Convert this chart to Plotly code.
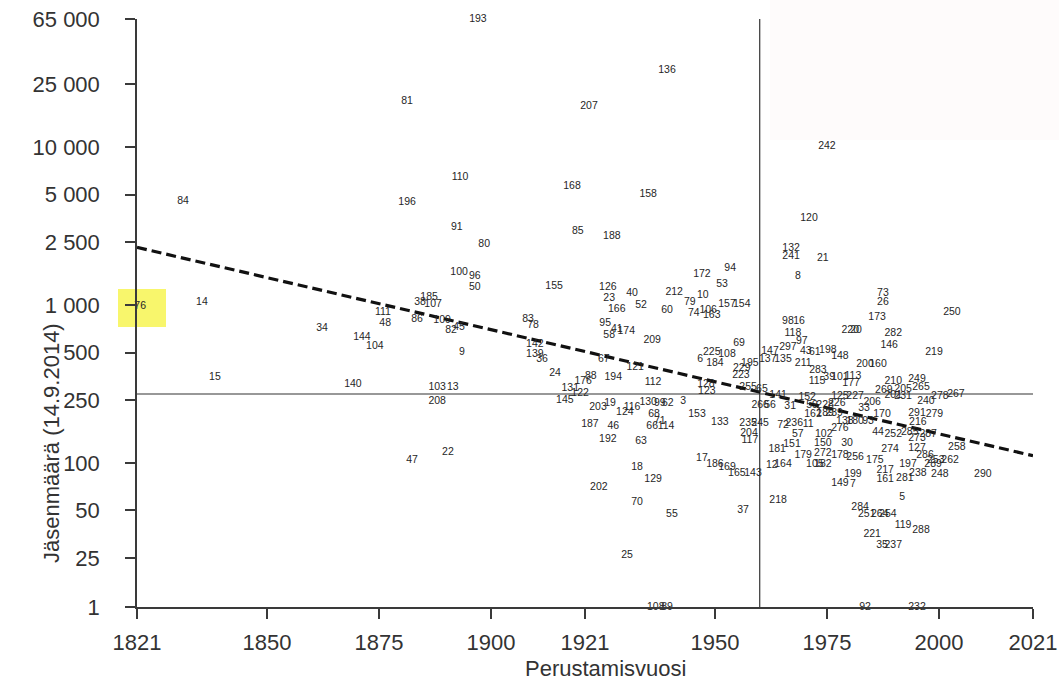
import math
import plotly.graph_objects as go

# ---------------- data ----------------
labels = [
    "84", "14", "76", "34", "15", "140", "144", "104", "111", "48",
    "38", "185", "107", "86", "109", "82", "45", "9", "100", "96",
    "50", "103", "13", "208", "22", "47", "81", "193", "110", "196",
    "91", "80", "155", "168", "207", "136", "85", "188", "158", "126",
    "23", "40", "166", "52", "212", "60", "79", "83", "78", "95",
    "41", "174", "58", "209", "172", "10", "74", "106", "163", "94",
    "53", "157", "154", "242", "120", "132", "241", "21", "8", "73",
    "26", "173", "250", "98", "16", "220", "20", "118", "282", "146",
    "219", "200", "160", "101", "113", "177", "283", "115", "39", "211",
    "297", "97", "43", "61", "198", "148", "147", "137", "135", "69",
    "225", "108", "6", "184", "195", "229", "223", "142", "139", "36",
    "24", "88", "176", "131", "122", "145", "194", "67", "121", "112",
    "3", "130", "99", "62", "203", "19", "124", "116", "68", "66",
    "71", "114", "187", "46", "192", "63", "153", "133", "128", "123",
    "17", "186", "169", "165", "143", "37", "18", "129", "202", "70",
    "55", "25", "108", "89", "92", "232", "141", "152", "266", "56",
    "31", "59", "228", "226", "162", "189", "239", "180", "93", "138",
    "276", "33", "206", "125", "227", "210", "249", "269", "201", "231",
    "205", "265", "240", "278", "267", "170", "291", "216", "279", "44",
    "252", "285", "273", "287", "274", "258", "127", "286", "253", "262",
    "197", "289", "248", "238", "281", "175", "256", "217", "161", "199",
    "149", "7", "290", "5", "284", "251", "264", "254", "119", "288",
    "221", "35", "237", "235", "245", "204", "117", "72", "236", "11",
    "57", "102", "151", "150", "30", "181", "179", "272", "178", "105",
    "182", "12", "164", "218", "255", "65",
]

founded = [
    1831.3, 1835.5, 1821.7, 1862.3, 1838.4, 1869.2, 1871.2, 1874.1, 1875.9, 1876.4,
    1884.2, 1886.2, 1887.1, 1883.5, 1889.1, 1891.1, 1892.9, 1893.5, 1892.9, 1896.4,
    1896.4, 1888.0, 1891.5, 1888.0, 1890.4, 1882.4, 1881.3, 1897.1, 1893.1, 1881.3,
    1892.4, 1898.5, 1914.1, 1918.1, 1921.9, 1939.3, 1919.4, 1927.0, 1935.1, 1926.1,
    1926.4, 1931.5, 1928.1, 1933.5, 1940.9, 1939.3, 1944.4, 1908.3, 1909.4, 1925.5,
    1928.1, 1930.2, 1926.4, 1936.0, 1947.1, 1947.3, 1945.3, 1948.5, 1949.3, 1953.4,
    1951.6, 1952.7, 1956.0, 1975.0, 1971.0, 1967.0, 1967.0, 1974.1, 1968.5, 1987.5,
    1987.5, 1986.2, 2002.9, 1966.3, 1968.8, 1980.2, 1981.5, 1967.4, 1989.8, 1988.9,
    1998.9, 1983.5, 1986.4, 1977.9, 1980.8, 1980.4, 1973.0, 1972.8, 1975.5, 1969.7,
    1966.3, 1969.4, 1970.3, 1972.3, 1975.2, 1977.9, 1962.3, 1961.8, 1965.2, 1955.4,
    1949.3, 1952.7, 1946.7, 1950.0, 1957.8, 1956.0, 1955.8, 1909.8, 1909.8, 1911.4,
    1914.3, 1922.3, 1920.6, 1917.7, 1919.9, 1916.5, 1927.3, 1925.2, 1932.2, 1936.2,
    1942.9, 1935.1, 1937.7, 1939.5, 1923.9, 1926.6, 1929.9, 1931.5, 1936.4, 1936.0,
    1937.7, 1939.1, 1922.1, 1927.3, 1926.1, 1933.5, 1946.0, 1951.1, 1948.0, 1948.2,
    1947.1, 1950.0, 1952.7, 1954.9, 1958.5, 1956.3, 1932.6, 1936.2, 1924.1, 1932.6,
    1940.4, 1930.4, 1936.8, 1939.3, 1983.5, 1995.1, 1964.1, 1970.6, 1960.1, 1962.3,
    1966.8, 1971.7, 1974.6, 1977.2, 1971.9, 1974.6, 1976.6, 1981.3, 1984.2, 1979.0,
    1977.9, 1983.3, 1985.1, 1977.9, 1981.3, 1989.8, 1995.1, 1987.7, 1989.8, 1992.0,
    1992.0, 1996.0, 1997.1, 2000.2, 2003.8, 1987.3, 1995.1, 1995.3, 1999.0, 1986.4,
    1989.8, 1993.5, 1995.1, 1997.6, 1989.1, 2004.0, 1995.1, 1996.9, 1999.3, 2002.5,
    1993.1, 1998.7, 2000.2, 1995.3, 1992.4, 1985.7, 1981.3, 1988.0, 1988.0, 1980.8,
    1977.9, 1980.8, 2009.8, 1991.8, 1982.4, 1983.9, 1986.8, 1988.6, 1992.0, 1996.0,
    1985.1, 1987.3, 1989.8, 1957.4, 1960.1, 1957.6, 1957.8, 1965.2, 1967.7, 1970.8,
    1968.5, 1974.3, 1967.2, 1974.1, 1979.5, 1963.9, 1969.7, 1974.1, 1977.9, 1972.3,
    1974.1, 1962.7, 1965.2, 1964.1, 1957.4, 1960.5,
]

members = [
    4530, 1045, 980, 714, 348, 314, 625, 548, 902, 767,
    1045, 1125, 1015, 815, 800, 693, 725, 502, 1600, 1530,
    1300, 300, 300, 245, 117, 103, 19600, 65000, 6440, 4470,
    3090, 2410, 1320, 5650, 18200, 30500, 2920, 2710, 5000, 1300,
    1110, 1190, 944, 1000, 1210, 930, 1045, 815, 746, 767,
    700, 683, 644, 599, 1575, 1160, 889, 930, 855, 1720,
    1360, 1015, 1015, 10150, 3530, 2300, 2020, 1990, 1530, 1190,
    1045, 839, 902, 790, 790, 693, 693, 664, 664, 556,
    502, 421, 421, 348, 353, 318, 386, 328, 348, 428,
    540, 591, 509, 500, 517, 470, 509, 453, 453, 574,
    502, 490, 453, 428, 428, 397, 358, 565, 490, 453,
    369, 353, 328, 296, 275, 248, 348, 453, 403, 323,
    245, 241, 238, 238, 224, 238, 208, 224, 202, 170,
    182, 170, 175, 170, 140, 136, 202, 180, 314, 283,
    106, 98, 94, 86, 86, 50, 93, 78, 70, 56,
    47, 26, 1, 1, 1, 1, 267, 259, 230, 230,
    227, 233, 233, 238, 202, 205, 205, 182, 182, 182,
    165, 220, 240, 262, 262, 328, 337, 287, 267, 262,
    291, 300, 245, 262, 271, 202, 205, 180, 202, 155,
    151, 155, 142, 151, 121, 126, 124, 111, 103, 103,
    98, 98, 85, 86, 80, 103, 108, 90, 78, 85,
    74, 73, 84, 60, 52, 47, 47, 47, 40, 37.5,
    35, 30, 30, 177, 177, 153, 138, 172, 177, 175,
    151, 151, 130, 132, 132, 121, 111, 114, 111, 98,
    98, 97, 98, 58, 300, 293,
]

# regression (dashed) end points, medians (reference lines)
reg_years = [1821, 2021]
reg_members = [2320, 111]
median_year = 1960
median_members = 273

x_ticks = [1821, 1850, 1875, 1900, 1921, 1950, 1975, 2000, 2021]
y_tick_values = [1, 25, 50, 100, 250, 500, 1000, 2500, 5000, 10000, 25000, 65000]
y_tick_text = ["1", "25", "50", "100", "250", "500", "1 000", "2 500",
               "5 000", "10 000", "25 000", "65 000"]

x_title = "Perustamisvuosi"
y_title = "Jäsenmäärä (14.9.2014)"

# ---------------- axis break: value 1 is drawn at the bottom of the log axis ----
Y_ONE = 12.2          # position used for the "1" members level (broken axis)
Y_TOP = 65000
X_MIN, X_MAX = 1821, 2021


def ypos(v):
    return Y_ONE if v <= 1 else v


plot_y = [ypos(v) for v in members]
tick_pos = [ypos(v) for v in y_tick_values]

FONT = "Liberation Sans, Arial, Helvetica, sans-serif"
AX = "#3a3a3a"

fig = go.Figure()

# median reference lines
fig.add_trace(go.Scatter(x=[X_MIN, X_MAX], y=[median_members, median_members],
                         mode="lines", line=dict(color="#333333", width=1.2),
                         hoverinfo="skip", showlegend=False))
fig.add_trace(go.Scatter(x=[median_year, median_year], y=[Y_ONE, Y_TOP],
                         mode="lines", line=dict(color="#333333", width=1.2),
                         hoverinfo="skip", showlegend=False))

# regression line
fig.add_trace(go.Scatter(x=reg_years, y=reg_members, mode="lines",
                         line=dict(color="#111111", width=3.2, dash="10px,5px"),
                         hoverinfo="skip", showlegend=False))

# labelled points
fig.add_trace(go.Scatter(x=founded, y=plot_y, mode="text", text=labels,
                         textposition="middle center",
                         textfont=dict(family=FONT, size=10.5, color="#262626"),
                         cliponaxis=False, showlegend=False,
                         hovertemplate="%{text}<extra></extra>"))

L, R, T, B = 137, 26, 19, 74
W, H = 1059, 681
pw, ph = W - L - R, H - T - B


def px(xpix):
    return (xpix - L) / pw


def py(ypix):
    return (H - B - ypix) / ph


shapes = [
    # faint tinted patch at the top right of the scan
    dict(type="rect", xref="paper", yref="paper", x0=px(770), x1=px(1059),
         y0=py(140), y1=py(0), fillcolor="#fefbfb", line=dict(width=0),
         layer="below"),
    # yellow highlight around label 76
    dict(type="rect", xref="paper", yref="paper", x0=px(118), x1=px(166),
         y0=py(327), y1=py(289), fillcolor="#f8f66c", line=dict(width=0),
         layer="below"),
]

fig.update_layout(
    width=W, height=H, autosize=False,
    margin=dict(l=L, r=R, t=T, b=B, pad=0),
    paper_bgcolor="white", plot_bgcolor="rgba(0,0,0,0)",
    font=dict(family=FONT, color="#333333"),
    shapes=shapes,
    showlegend=False,
    annotations=[
        dict(text=x_title, xref="paper", yref="paper", x=px(605), y=py(668),
             showarrow=False, font=dict(family=FONT, size=22, color="#333333"),
             xanchor="center", yanchor="middle"),
        dict(text=y_title, xref="paper", yref="paper", x=px(51), y=py(443),
             showarrow=False, textangle=-90,
             font=dict(family=FONT, size=22, color="#333333"),
             xanchor="center", yanchor="middle"),
    ],
)

fig.update_xaxes(
    range=[X_MIN, X_MAX], tickmode="array", tickvals=x_ticks,
    showgrid=False, zeroline=False, showline=True, linecolor=AX, linewidth=1.5,
    ticks="outside", ticklen=10, tickwidth=1.5, tickcolor=AX,
    tickfont=dict(family=FONT, size=22, color="#333333"),
    ticklabelstandoff=5, automargin=False,
)
fig.update_yaxes(
    type="log", range=[math.log10(Y_ONE), math.log10(Y_TOP)],
    tickmode="array", tickvals=tick_pos, ticktext=y_tick_text,
    showgrid=False, zeroline=False, showline=True, linecolor=AX, linewidth=1.5,
    ticks="outside", ticklen=10, tickwidth=1.5, tickcolor=AX,
    tickfont=dict(family=FONT, size=22, color="#333333"),
    ticklabelstandoff=21, automargin=False,
)

fig.write_html(
    "out.html",
    config={"displayModeBar": False},
    post_script="document.body.style.margin='0';document.body.style.padding='0';",
)
